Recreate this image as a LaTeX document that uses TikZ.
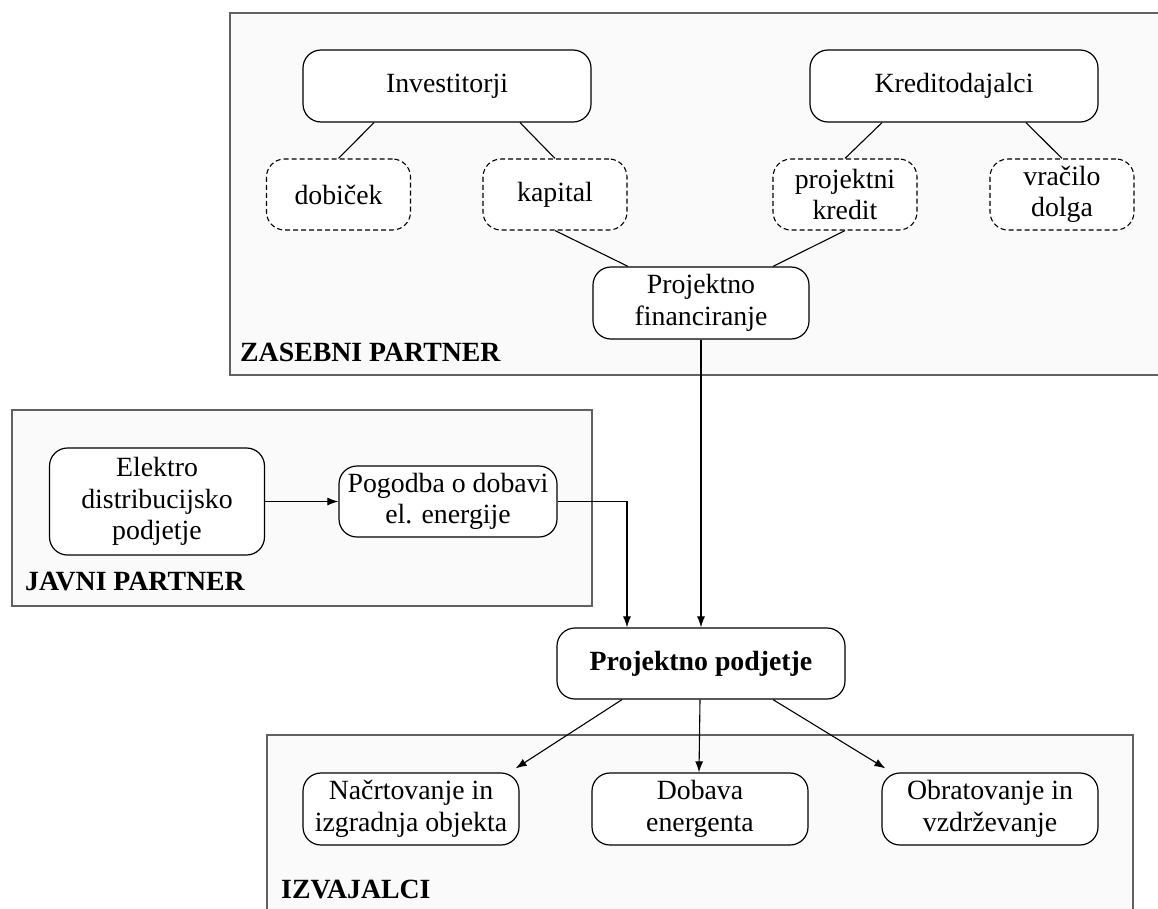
\documentclass[tikz,border=0pt]{standalone}
\usepackage{fontspec}
\setmainfont{Liberation Serif}
\usetikzlibrary{arrows.meta}

\begin{document}
\begin{tikzpicture}[x=1pt,y=-1pt,
  every node/.style={font=\fontsize{27.8}{31.5}\selectfont, align=center, inner sep=0pt},
  group/.style={draw=black!62, line width=1.3pt, fill=black!2},
  grouplabel/.style={anchor=base west, font=\fontsize{27.8}{31.5}\selectfont\bfseries},
  entity/.style={draw, line width=1.2pt, rounded corners=18pt, fill=white, minimum height=72pt},
  flow/.style={draw, line width=1.1pt, dash pattern=on 5pt off 3pt, rounded corners=18pt,
    fill=white, minimum width=144pt, minimum height=71pt},
  link/.style={line width=1.1pt},
  arr/.style={line width=1.1pt, -{Latex[length=11pt,width=8pt]}}
]
\useasboundingbox (0,0) rectangle (1158,908);
\clip (0,0) rectangle (1158,908);
\fill[white] (0,0) rectangle (1158,908);

% group frames
\draw[group] (230,13) rectangle (1175,375);
\draw[group] (12,410) rectangle (592,606);
\draw[group] (267,735) rectangle (1133,940);

\node[grouplabel] (lzas) at (240,361) {ZASEBNI PARTNER};
\node[grouplabel] (ljav) at (25,590) {JAVNI PARTNER};
\node[grouplabel] (lizv) at (281,898) {IZVAJALCI};

% private partner
\node[entity, minimum width=288pt] (inv) at (447,86) {Investitorji};
\node[entity, minimum width=288pt] (kre) at (954,86) {Kreditodajalci};
\node[flow] (dob) at (338.5,194.5) {dobiček};
\node[flow] (kap) at (555,194.5) {kapital};
\node[flow] (pk) at (845,194.5) {projektni\\kredit};
\node[flow] (vd) at (1062,194.5) {vračilo\\dolga};
\node[entity, minimum width=216pt] (pf) at (701,303) {Projektno\\financiranje};

% public partner
\node[entity, minimum width=215pt, minimum height=107pt] (el) at (157,501.5) {Elektro\\distribucijsko\\podjetje};
\node[entity, minimum width=218pt, minimum height=71pt] (pog) at (448,501.5) {Pogodba o dobavi\\el. energije};

% project company
\node[entity, minimum width=288pt, minimum height=71pt] (pp) at (701,663.5) {\bfseries Projektno podjetje};

% contractors
\node[entity, minimum width=216pt] (nac) at (411,809) {Načrtovanje in\\izgradnja objekta};
\node[entity, minimum width=216pt] (dov) at (700,809) {Dobava\\energenta};
\node[entity, minimum width=216pt] (obr) at (990,809) {Obratovanje in\\vzdrževanje};

% financing links
\draw[link] ([xshift=-73pt]inv.south) -- (dob.north);
\draw[link] ([xshift=73pt]inv.south) -- (kap.north);
\draw[link] ([xshift=-72pt]kre.south) -- (pk.north);
\draw[link] ([xshift=72pt]kre.south) -- (vd.north);
\draw[link] (kap.south) -- ([xshift=-73pt]pf.north);
\draw[link] (pk.south) -- ([xshift=72pt]pf.north);

% flows into the project company
\draw[arr] (pf.south) -- (pp.north);
\draw[arr] (el.east) -- (pog.west);
\draw[arr] (pog.east) -| ([xshift=-74pt]pp.north);

% flows to contractors
\draw[arr] ([xshift=-79pt]pp.south) -- ([xshift=-4pt,yshift=4pt]nac.north east);
\draw[arr] ([xshift=-1pt]pp.south) -- ([xshift=-1pt]dov.north);
\draw[arr] ([xshift=72pt]pp.south) -- ([xshift=4pt,yshift=4pt]obr.north west);
\end{tikzpicture}
\end{document}
